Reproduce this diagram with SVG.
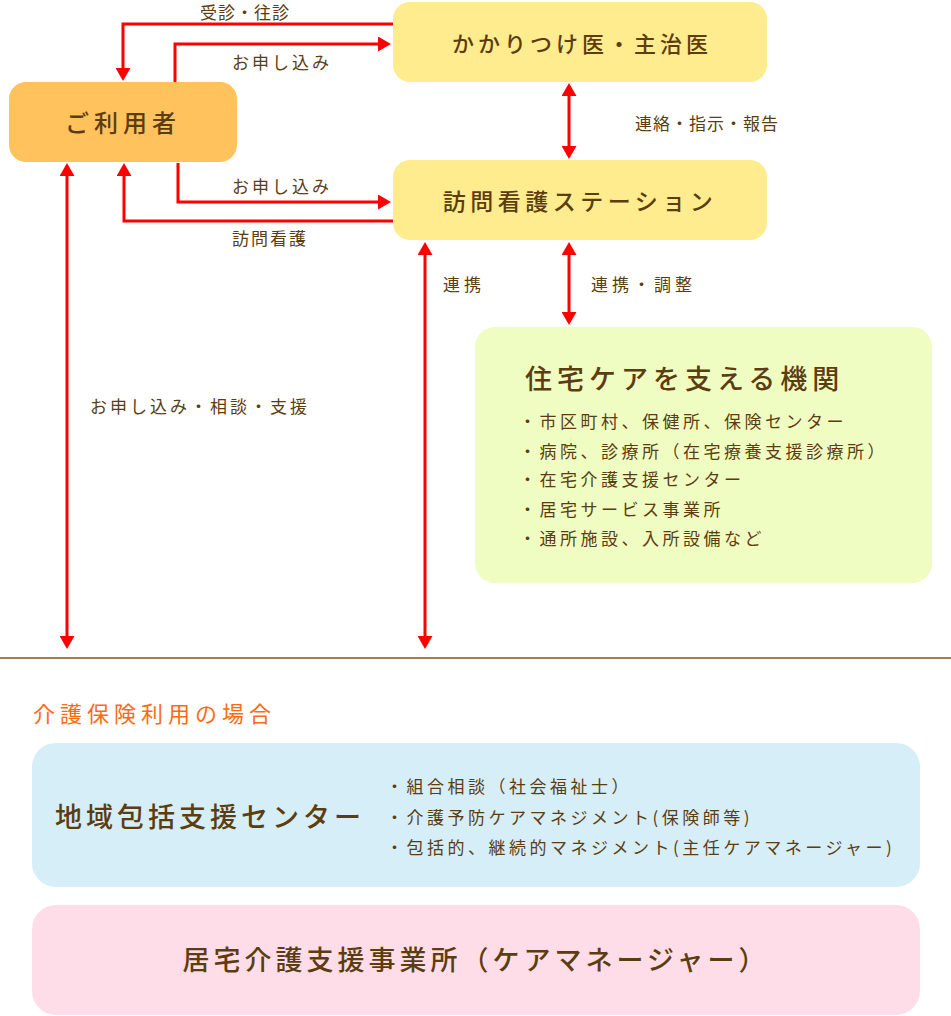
<svg xmlns="http://www.w3.org/2000/svg" width="951" height="1016" viewBox="0 0 951 1016">
<style>
text{font-family:"Noto Sans CJK JP","Noto Sans CJK SC",sans-serif;fill:#5c3d10;dominant-baseline:central}
.t{font-weight:500}
.lb{font-size:17px}
.ar{fill:none;stroke:#ff0000;stroke-width:3}
</style>
<defs>
<marker id="ah" viewBox="0 0 13 15" refX="5" refY="7.5" markerWidth="13" markerHeight="15" markerUnits="userSpaceOnUse" orient="auto-start-reverse">
<path d="M0,0 L13,7.5 L0,15 Z" fill="#ff0000"/>
</marker>
</defs>
<rect width="951" height="1016" fill="#ffffff"/>
<g id="connectors">
<path class="ar" d="M393,24 H123 V73" marker-end="url(#ah)"/>
<path class="ar" d="M175,82 V44 H383" marker-end="url(#ah)"/>
<path class="ar" d="M178,163 V202 H383" marker-end="url(#ah)"/>
<path class="ar" d="M393,221 H124 V171" marker-end="url(#ah)"/>
<path class="ar" d="M569,91 V151" marker-start="url(#ah)" marker-end="url(#ah)"/>
<path class="ar" d="M569,250 V317" marker-start="url(#ah)" marker-end="url(#ah)"/>
<path class="ar" d="M425,250 V641" marker-start="url(#ah)" marker-end="url(#ah)"/>
<path class="ar" d="M67,171 V641" marker-start="url(#ah)" marker-end="url(#ah)"/>
<text class="lb" x="200" y="11" letter-spacing="1">受診・往診</text>
<text class="lb" x="232" y="61" letter-spacing="3">お申し込み</text>
<text class="lb" x="232" y="185" letter-spacing="3">お申し込み</text>
<text class="lb" x="232" y="237" letter-spacing="2">訪問看護</text>
<text class="lb" x="635" y="122" letter-spacing="1">連絡・指示・報告</text>
<text class="lb" x="443" y="283" letter-spacing="4">連携</text>
<text class="lb" x="591" y="283" letter-spacing="4">連携・調整</text>
<text class="lb" x="90" y="405" letter-spacing="3">お申し込み・相談・支援</text>
</g>
<g id="user">
<rect x="9" y="82" width="228" height="80" rx="17" fill="#ffc25c"/>
<text class="t" x="123" y="121" font-size="24" letter-spacing="5" text-anchor="middle">ご利用者</text>
</g>
<g id="doctor">
<rect x="393" y="2" width="374" height="80" rx="17" fill="#ffec8e"/>
<text class="t" x="582" y="42" font-size="22" letter-spacing="4" text-anchor="middle">かかりつけ医・主治医</text>
</g>
<g id="station">
<rect x="393" y="160" width="374" height="80" rx="17" fill="#ffec8e"/>
<text class="t" x="580" y="200" font-size="23" letter-spacing="4.5" text-anchor="middle">訪問看護ステーション</text>
</g>
<g id="support">
<rect x="475" y="327" width="457" height="256" rx="20" fill="#effcc2"/>
<text class="t" x="525" y="377" font-size="27" letter-spacing="5">住宅ケアを支える機関</text>
<text x="519" y="420" font-size="17" letter-spacing="3.5">・市区町村、保健所、保険センター</text>
<text x="519" y="450" font-size="17" letter-spacing="3.5">・病院、診療所（在宅療養支援診療所）</text>
<text x="519" y="478" font-size="17" letter-spacing="3.5">・在宅介護支援センター</text>
<text x="519" y="508" font-size="17" letter-spacing="3.5">・居宅サービス事業所</text>
<text x="519" y="537" font-size="17" letter-spacing="3.5">・通所施設、入所設備など</text>
</g>
<path d="M0,658 H951" stroke="#a47e4e" stroke-width="2"/>
<text x="33" y="712" font-size="22" letter-spacing="5" style="fill:#ff6a13">介護保険利用の場合</text>
<g id="center">
<rect x="32" y="743" width="888" height="144" rx="24" fill="#d6eef8"/>
<text class="t" x="55" y="815" font-size="27" letter-spacing="4">地域包括支援センター</text>
<text x="386" y="785" font-size="17" letter-spacing="3.5">・組合相談（社会福祉士）</text>
<text x="386" y="816" font-size="17" letter-spacing="3.5">・介護予防ケアマネジメント(保険師等)</text>
<text x="386" y="846" font-size="17" letter-spacing="3.5">・包括的、継続的マネジメント(主任ケアマネージャー)</text>
</g>
<g id="office">
<rect x="32" y="905" width="888" height="110" rx="24" fill="#ffdde8"/>
<text class="t" x="476" y="958" font-size="27" letter-spacing="4" text-anchor="middle">居宅介護支援事業所（ケアマネージャー）</text>
</g>
</svg>
